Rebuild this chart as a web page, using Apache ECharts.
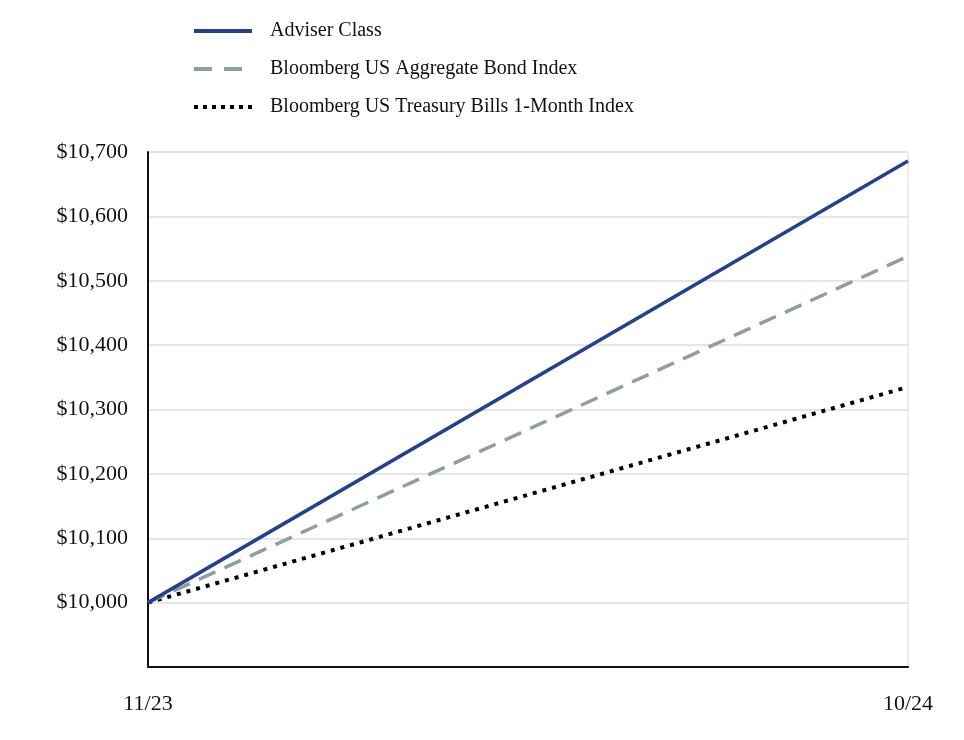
<!DOCTYPE html>
<html><head><meta charset="utf-8">
<script src="https://cdn.jsdelivr.net/npm/echarts@6/dist/echarts.min.js"></script>
<style>html,body{margin:0;padding:0;background:#fff}#c{width:964px;height:740px}</style>
</head><body><div id="c"></div>
<script>
const categories = ['11/23', '10/24'];
const adviserClass = [10000, 10686];
const aggregateBond = [10000, 10538];
const treasuryBills = [10000, 10335];
const seriesNames = ['Adviser Class', 'Bloomberg US Aggregate Bond Index', 'Bloomberg US Treasury Bills 1-Month Index'];

const font = '"Liberation Serif", "DejaVu Serif", serif';
const chart = echarts.init(document.getElementById('c'), null, {renderer: 'canvas'});
chart.setOption({
  animation: false,
  backgroundColor: '#fff',
  textStyle: {fontFamily: font},
  legend: {
    orient: 'vertical', left: 192, top: 21, padding: 0, itemWidth: 58, itemHeight: 20, itemGap: 18,
    textStyle: {fontFamily: font, fontSize: 20, color: '#111', padding: [0, 0, 0, 13]},
    itemStyle: {opacity: 0},
    data: [
      {name: seriesNames[0], lineStyle: {width: 4, color: '#25408f', type: 'solid'}},
      {name: seriesNames[1], lineStyle: {width: 4, color: '#8f9ea0', type: [18, 12]}},
      {name: seriesNames[2], lineStyle: {width: 4, color: '#000', type: [4, 5]}}
    ]
  },
  grid: {left: 148, right: 56, top: 152, bottom: 73, show: true, borderColor: '#dcdcdc', borderWidth: 1},
  xAxis: {
    type: 'category', data: categories, boundaryGap: false,
    axisLine: {lineStyle: {color: '#111', width: 2}}, axisTick: {show: false},
    axisLabel: {fontFamily: font, fontSize: 22, color: '#111', margin: 26},
    splitLine: {show: false}
  },
  yAxis: {
    type: 'value', min: 9900, max: 10700, interval: 100,
    axisLine: {show: true, lineStyle: {color: '#111', width: 2}}, axisTick: {show: false},
    axisLabel: {fontFamily: font, fontSize: 22, color: '#111', margin: 20,
      formatter: v => v < 10000 ? '' : '$' + v.toLocaleString('en-US')},
    splitLine: {lineStyle: {color: '#dcdcdc', width: 1.5}}
  },
  series: [
    {name: seriesNames[0], type: 'line', data: adviserClass, symbol: 'none', z: 5,
      lineStyle: {color: '#25408f', width: 3.5}, itemStyle: {color: '#25408f'}},
    {name: seriesNames[1], type: 'line', data: aggregateBond, symbol: 'none', z: 4,
      lineStyle: {color: '#8f9ea0', width: 3.5, type: [18, 10]}, itemStyle: {color: '#8f9ea0'}},
    {name: seriesNames[2], type: 'line', data: treasuryBills, symbol: 'none', z: 3,
      lineStyle: {color: '#000', width: 4, type: [4, 6]}, itemStyle: {color: '#000'}}
  ]
});
</script></body></html>
